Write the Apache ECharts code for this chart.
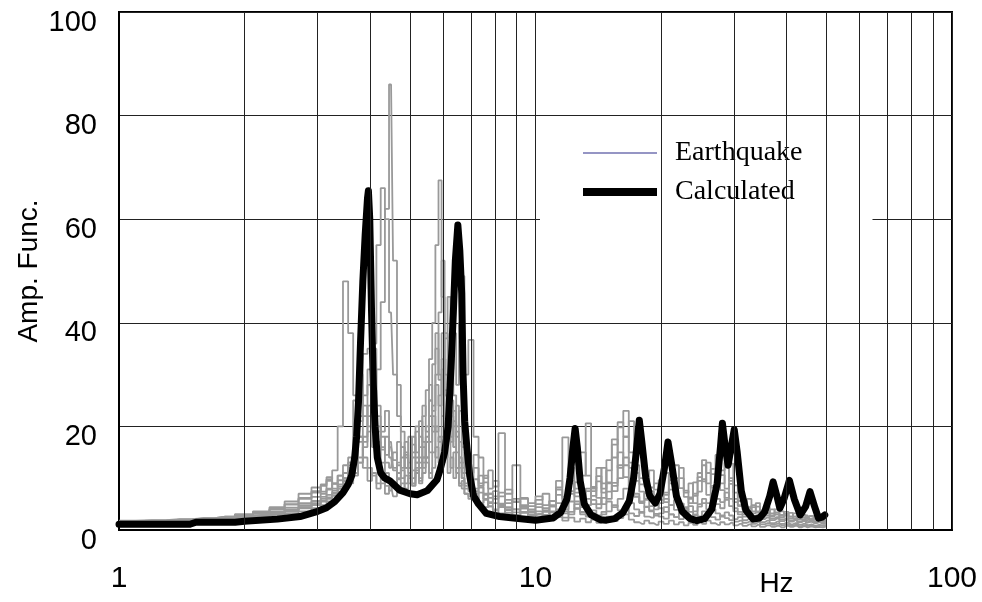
<!DOCTYPE html>
<html>
<head>
<meta charset="utf-8">
<script src="https://cdn.jsdelivr.net/npm/echarts@6/dist/echarts.min.js"></script>
<style>
html,body{margin:0;padding:0;background:#fff;}
#chart{width:982px;height:602px;}
</style>
</head>
<body>
<div id="chart"></div>
<script>
// ---- Calculated transfer function (Hz, amplitude) ----
const calcFreq = [1.0, 1.48, 1.53, 1.9, 2.0, 2.4, 2.72, 3.0, 3.15, 3.3,
  3.45, 3.55, 3.62, 3.68, 3.72, 3.76, 3.8, 3.85, 3.9, 3.95,
  3.97, 4.0, 4.04, 4.08, 4.12, 4.17, 4.25, 4.35, 4.47, 4.72,
  5.0, 5.2, 5.5, 5.8, 5.9, 6.05, 6.17, 6.28, 6.35, 6.42,
  6.51, 6.58, 6.65, 6.7, 6.76, 6.83, 6.95, 7.1, 7.3, 7.62,
  8.2, 8.85, 10.0, 11.0, 11.5, 11.9, 12.1, 12.3, 12.45, 12.6,
  12.8, 13.1, 13.6, 14.3, 14.8, 15.5, 16.2, 16.8, 17.2, 17.5,
  17.75, 18.0, 18.4, 18.8, 19.4, 19.9, 20.4, 20.8, 21.2, 21.8,
  22.5, 23.5, 24.4, 25.5, 26.5, 27.3, 27.8, 28.1, 28.5, 29.0,
  29.5, 30.0, 30.5, 31.2, 32.0, 33.3, 34.5, 35.5, 36.5, 37.2,
  38.0, 38.6, 39.5, 40.7, 41.8, 43.2, 44.5, 45.6, 46.8, 47.8,
  48.8, 49.5];
const calcAmp = [1.1, 1.1, 1.5, 1.5, 1.7, 2.1, 2.6, 3.6, 4.3, 5.5,
  7.2, 8.8, 10.5, 14, 18, 25, 36, 48, 57, 64,
  65.5, 60, 42, 28, 20, 14, 11, 10, 9.5, 7.7,
  7.0, 6.8, 7.6, 9.7, 11.6, 15, 20, 32.8, 42, 52,
  58.9, 54, 45.7, 30, 21, 16.7, 10.5, 6.6, 5.0, 3.2,
  2.6, 2.3, 1.9, 2.3, 3.4, 6.0, 10, 16, 19.6, 16,
  9.5, 5, 2.9, 2.0, 1.9, 2.2, 3.3, 5.6, 10, 16,
  21.2, 17, 10, 6.6, 5.2, 7, 12, 17, 13, 6.5,
  3.6, 2.2, 1.8, 2.2, 4, 9, 16, 20.6, 16.5, 12.5,
  16, 19.4, 15, 7.5, 3.8, 2.1, 2.3, 3.5, 6.5, 9.3,
  6.5, 4.2, 6, 9.6, 6, 2.9, 4.5, 7.4, 4.5, 2.3,
  2.5, 2.9];

// ---- Earthquake records: shared frequency grid (Hz) ----
const eqFreq = [1.0, 1.2, 1.4, 1.6, 1.8, 2.0, 2.2, 2.4, 2.6, 2.8,
  3.0, 3.1, 3.2, 3.3, 3.4, 3.5, 3.6, 3.7, 3.8, 3.9,
  4.0, 4.1, 4.2, 4.3, 4.4, 4.5, 4.6, 4.7, 4.8, 4.9,
  5.0, 5.1, 5.2, 5.3, 5.4, 5.5, 5.6, 5.7, 5.8, 5.9,
  6.0, 6.1, 6.2, 6.3, 6.4, 6.5, 6.6, 6.7, 6.8,
  7.0, 7.2, 7.4, 7.6, 7.8, 8.0, 8.3, 8.6, 9.0, 9.4, 9.8,
  10.2, 10.6, 11.0, 11.4, 11.8, 12.2, 12.6, 13.0, 13.4, 13.8,
  14.2, 14.6, 15.0, 15.5, 16.0, 16.5, 17.0, 17.5, 18.0, 18.5,
  19.0, 19.5, 20.0, 20.6, 21.2, 21.8, 22.4, 23.0, 23.6, 24.2,
  24.8, 25.4, 26.0, 26.7, 27.4, 28.1, 28.8, 29.5, 30.2, 31.0,
  31.8, 32.6, 33.4, 34.2, 35.0, 36, 37, 38, 39, 40,
  41, 42, 43, 44, 45, 46, 47, 48, 49, 50];

const eqA = [1.6, 1.7, 1.9, 2.1, 2.3, 2.6, 2.9, 3.3, 3.8, 4.4,
  5.0, 5.6, 6.3, 7.0, 7.4, 8.2, 9.5, 11, 13, 16,
  19, 24, 31, 44, 62, 86, 52, 28, 19, 14,
  12, 10, 13, 9, 11, 14, 10, 12, 16, 13,
  18, 14, 20, 12, 15, 11, 9, 8, 7,
  6.5, 7.5, 5.2, 5.8, 4.6, 4.0, 5.1, 3.8, 3.4, 4.2, 3.0,
  3.6, 2.9, 4.5, 6.8, 5.0, 7.5, 9.2, 6.1, 4.8, 8.3,
  6.2, 5.0, 7.4, 9.1, 12.5, 10.2, 8.0, 6.4, 5.3, 7.1,
  6.0, 4.9, 5.8, 7.2, 9.6, 6.5, 5.1, 4.4, 6.3, 5.2,
  7.4, 9.8, 6.8, 8.5, 10.4, 7.7, 6.2, 8.9, 5.4, 4.6,
  3.9, 4.4, 3.2, 3.6, 2.9, 3.3, 2.6, 3.0, 2.4, 2.8,
  2.2, 2.6, 2.0, 2.4, 1.9, 2.2, 1.7, 2.0, 1.6, 1.8];
const eqB = [1.5, 1.6, 1.7, 1.9, 2.1, 2.4, 2.8, 3.2, 3.9, 4.8,
  5.6, 6.4, 7.8, 8.9, 9.6, 11, 12.5, 14, 17, 22,
  28, 36, 55, 66, 60, 42, 30, 22, 16, 12,
  10.5, 9.0, 11, 14, 12, 17, 22, 19, 28, 24,
  33, 26, 19, 22, 16, 12, 14, 10, 8.5,
  9.5, 7.0, 8.2, 6.0, 5.4, 6.5, 4.8, 4.0, 5.5, 4.2, 3.5,
  4.4, 3.8, 5.6, 8.2, 17.9, 9.0, 6.5, 10.5, 20.6, 8.0,
  9.4, 7.2, 11.5, 14.0, 19.8, 23.0, 15.0, 9.5, 7.4, 6.0,
  8.2, 9.0, 6.5, 5.4, 7.8, 10.0, 8.1, 6.4, 5.2, 7.0,
  9.5, 13.5, 11.0, 8.2, 12.0, 9.0, 14.5, 10.0, 7.2, 5.6,
  4.5, 3.6, 4.8, 3.4, 3.0, 3.9, 2.8, 3.4, 2.5, 3.1,
  2.6, 2.2, 2.8, 2.0, 2.5, 1.9, 2.3, 1.8, 2.1, 1.7];
const eqC = [1.7, 1.8, 2.0, 2.2, 2.5, 2.9, 3.4, 4.0, 4.9, 6.0,
  7.2, 8.5, 9.8, 11.5, 20, 48, 38, 26, 18, 14,
  12, 10.5, 9, 11, 8.5, 7.6, 9.2, 12.5, 10, 15,
  13, 18, 15, 21, 17, 14, 25, 32, 38, 30,
  22, 27, 21, 17, 23, 18, 13, 11, 9,
  8, 9.8, 7.2, 6.0, 7.0, 5.2, 4.4, 5.8, 4.0, 3.4, 3.9,
  3.0, 3.5, 2.6, 4.0, 3.2, 5.5, 4.1, 3.4, 6.0, 5.0,
  4.2, 12.0, 6.0, 8.5, 10.0, 14.0, 12.0, 7.0, 5.5, 4.4,
  3.8, 5.0, 4.2, 3.5, 4.8, 3.9, 3.2, 4.1, 3.5, 2.9,
  4.5, 5.2, 4.0, 6.4, 5.0, 4.2, 5.8, 4.6, 3.6, 3.0,
  2.6, 2.9, 2.3, 2.6, 2.1, 2.4, 1.9, 2.2, 1.7, 2.0,
  1.6, 1.9, 1.5, 1.7, 1.4, 1.6, 1.3, 1.5, 1.2, 1.4];
const eqD = [1.4, 1.5, 1.6, 1.8, 2.0, 2.2, 2.5, 2.9, 3.5, 4.2,
  4.8, 5.5, 6.0, 7.2, 8.0, 9.4, 11, 15, 22, 34,
  35, 27, 20, 16, 13, 12, 15, 11, 14, 17,
  12, 15, 19, 13, 22, 27, 33, 40, 55, 67.5,
  45, 30, 24, 18, 21, 15, 12, 10, 8,
  7.5, 6.4, 5.2, 6.8, 4.5, 3.8, 4.6, 3.3, 2.9, 3.5, 2.8,
  3.1, 2.6, 2.2, 2.9, 2.4, 3.5, 4.2, 3.0, 2.6, 3.8,
  2.8, 3.5, 5.5, 4.4, 6.0, 8.0, 5.2, 4.0, 3.3, 4.5,
  3.6, 2.8, 3.2, 4.4, 3.0, 2.5, 3.6, 2.8, 2.2, 3.0,
  2.6, 3.6, 2.9, 4.0, 3.2, 2.6, 3.4, 2.8, 2.1, 2.5,
  1.9, 2.2, 1.6, 2.0, 1.5, 1.8, 1.3, 1.6, 1.2, 1.4,
  1.1, 1.3, 1.0, 1.2, 0.9, 1.1, 0.8, 1.0, 0.9, 1.0];
const eqE = [1.8, 1.9, 2.1, 2.3, 2.6, 3.0, 3.5, 4.1, 5.0, 6.2,
  7.5, 8.8, 10.2, 9.0, 8.4, 9.6, 12, 10.5, 14, 18,
  24, 21, 17, 13, 11, 9.5, 8.2, 9.8, 8.0, 10.5,
  9, 11.5, 14, 12, 16, 13, 11, 15, 20, 17,
  22, 19, 26, 31, 38, 28, 40, 49, 30,
  36.7, 18, 14, 10, 11.5, 8.4, 18.7, 7.0, 12.5, 6.0, 5.2,
  6.5, 4.8, 5.6, 7.8, 6.0, 9.5, 7.2, 5.5, 8.0, 6.6,
  10.4, 8.0, 9.2, 16.5, 20.8, 18.0, 13.0, 11.0, 8.8, 10.2,
  7.5, 6.2, 8.8, 11.0, 9.0, 12.5, 10.0, 7.6, 6.0, 9.2,
  11.0, 9.4, 13.0, 10.8, 8.5, 11.5, 13.0, 9.5, 6.0, 4.8,
  5.5, 4.2, 3.6, 4.5, 3.8, 3.2, 4.0, 3.0, 3.6, 2.8,
  3.3, 2.6, 3.0, 2.4, 2.8, 2.2, 2.6, 2.0, 2.4, 2.1];
const eqF = [1.5, 1.6, 1.8, 2.0, 2.2, 2.5, 2.8, 3.2, 3.7, 4.4,
  5.2, 6.0, 6.8, 7.6, 8.8, 10.0, 9.0, 11.0, 13.0, 17.0,
  22.0, 25.0, 19.0, 15.5, 18.0, 14.0, 11.5, 13.0, 16.0, 12.0,
  18.0, 14.0, 20.0, 16.0, 24.0, 19.0, 28.0, 23.0, 35.0, 29.0,
  38.0, 26.0, 33.0, 25.0, 20.0, 24.0, 17.0, 13.0, 11.0,
  10.0, 12.0, 8.5, 9.2, 7.0, 6.0, 7.2, 5.2, 6.0, 4.5, 4.0,
  5.0, 4.2, 3.6, 5.2, 4.0, 7.0, 5.5, 4.4, 7.5, 5.8,
  5.0, 6.2, 9.0, 7.5, 15.0, 12.5, 8.5, 6.5, 5.2, 5.8,
  4.6, 4.0, 5.2, 6.0, 4.8, 5.8, 4.4, 3.8, 4.6, 3.6,
  5.0, 6.0, 5.2, 7.0, 6.0, 5.4, 7.2, 6.0, 4.2, 3.5,
  3.0, 3.4, 2.7, 3.0, 2.4, 2.8, 2.2, 2.5, 2.0, 2.3,
  1.8, 2.1, 1.6, 1.9, 1.5, 1.8, 1.4, 1.6, 1.3, 1.5];
const eqG = [1.6, 1.7, 1.8, 2.0, 2.3, 2.7, 3.1, 3.6, 4.3, 5.2,
  6.4, 7.0, 8.0, 9.0, 10.5, 12.5, 14.0, 18.0, 30.0, 24.0,
  20.0, 16.0, 22.0, 18.0, 14.5, 17.0, 12.0, 10.0, 11.5, 9.0,
  10.5, 8.6, 12.0, 10.0, 14.0, 18.0, 15.0, 24.0, 30.0, 42.0,
  52.0, 38.0, 28.0, 20.0, 16.0, 19.0, 14.0, 12.0, 15.0,
  9.0, 8.0, 10.5, 7.0, 6.2, 7.5, 5.0, 4.4, 4.0, 4.8, 3.4,
  3.0, 2.7, 3.4, 2.8, 3.6, 3.0, 5.0, 3.5, 2.9, 3.2,
  2.5, 3.0, 3.6, 4.8, 3.8, 4.5, 3.2, 2.7, 3.5, 2.6,
  2.4, 3.1, 2.6, 2.2, 3.0, 2.5, 2.1, 2.7, 2.2, 1.9,
  2.6, 2.2, 3.0, 2.5, 2.0, 2.8, 2.3, 1.9, 1.6, 1.8,
  1.4, 1.6, 1.2, 1.5, 1.1, 1.3, 1.0, 1.2, 0.9, 1.1,
  0.8, 1.0, 0.7, 0.9, 0.8, 1.0, 0.7, 0.9, 0.8, 0.9];
const eqH = [1.7, 1.8, 2.0, 2.3, 2.6, 3.0, 3.6, 4.4, 5.5, 7.0,
  8.2, 7.4, 9.5, 8.0, 10.5, 9.0, 13.0, 16.0, 21.0, 26.0,
  31.0, 35.0, 24.0, 19.0, 23.0, 16.0, 13.5, 17.0, 12.0, 14.5,
  11.0, 16.5, 13.0, 18.0, 14.0, 20.0, 17.0, 22.0, 19.0, 26.0,
  31.0, 37.0, 45.0, 33.0, 26.0, 20.0, 23.0, 16.0, 13.0,
  11.0, 14.5, 9.0, 10.5, 8.0, 9.5, 6.5, 7.8, 5.4, 6.2, 4.6,
  5.8, 7.0, 4.8, 9.5, 6.4, 12.0, 8.0, 15.0, 10.5, 7.5,
  12.0, 9.0, 13.5, 17.5, 12.0, 18.0, 21.0, 12.5, 10.0, 8.4,
  11.5, 7.8, 9.6, 6.8, 10.8, 8.2, 12.0, 7.2, 9.0, 6.6,
  10.2, 12.5, 9.0, 11.8, 14.5, 10.6, 8.0, 12.8, 8.6, 6.4,
  5.0, 6.0, 4.4, 5.2, 3.6, 4.5, 3.2, 4.0, 2.9, 3.5,
  2.6, 3.2, 2.4, 2.9, 2.2, 2.7, 2.0, 2.5, 1.9, 2.3];
const eqI = [1.3, 1.4, 1.5, 1.7, 1.9, 2.1, 2.4, 2.7, 3.1, 3.6,
  4.2, 4.8, 5.5, 6.6, 8.0, 10.0, 13.0, 25.0, 18.0, 12.0,
  9.5, 11.0, 8.0, 9.0, 7.0, 8.5, 6.5, 7.5, 9.0, 8.0,
  10.0, 8.5, 11.5, 9.5, 13.0, 17.0, 25.0, 20.0, 14.0, 18.0,
  13.0, 16.0, 11.0, 14.0, 10.0, 12.0, 8.5, 9.5, 7.0,
  6.0, 7.0, 5.0, 4.4, 5.2, 3.8, 3.2, 4.0, 2.8, 3.3, 2.5,
  2.2, 2.8, 2.0, 2.5, 1.8, 2.4, 1.6, 2.2, 1.5, 2.0,
  1.4, 1.9, 2.6, 1.7, 2.3, 3.0, 2.0, 1.5, 1.2, 1.8,
  1.3, 1.0, 1.6, 1.2, 1.8, 1.1, 1.5, 0.9, 1.4, 1.0,
  1.6, 1.2, 1.8, 1.3, 1.0, 1.5, 1.1, 1.4, 0.9, 1.2,
  0.8, 1.1, 0.7, 1.0, 0.6, 0.9, 0.6, 0.8, 0.5, 0.8,
  0.6, 0.8, 0.5, 0.7, 0.5, 0.7, 0.5, 0.6, 0.5, 0.7];

const eqRecords = [eqA, eqB, eqC, eqD, eqE, eqF, eqG, eqH, eqI];

// Vertical grid lines at the intermediate decade values
const minorGrid = [2, 3, 4, 5, 6, 7, 8, 9, 20, 30, 40, 50, 60, 70, 80, 90];

const FONT = 'Liberation Sans, Arial, sans-serif';

const series = [];
series.push({
  name: 'grid', type: 'line', data: [[1, 0]], z: 1,
  symbol: 'none', lineStyle: { opacity: 0 }, silent: true,
  markLine: {
    silent: true, symbol: ['none', 'none'], animation: false,
    label: { show: false },
    lineStyle: { color: '#222', width: 1, type: 'solid' },
    data: minorGrid.map(v => ({ xAxis: v }))
  }
});
eqRecords.forEach(rec => {
  series.push({
    name: 'Earthquake', type: 'line', step: 'middle', symbol: 'none', z: 2,
    lineStyle: { color: '#999999', width: 1.8 },
    itemStyle: { color: '#999999' },
    data: rec.map((v, i) => [eqFreq[i], v])
  });
});
series.push({
  name: 'Calculated', type: 'line', symbol: 'none', z: 3,
  lineStyle: { color: '#000', width: 7, join: 'round', cap: 'round' },
  itemStyle: { color: '#000' },
  data: calcAmp.map((v, i) => [calcFreq[i], v])
});

const chart = echarts.init(document.getElementById('chart'), null, { renderer: 'canvas' });
chart.setOption({
  animation: false,
  backgroundColor: '#fff',
  grid: { left: 119, right: 30, top: 12, bottom: 72, outerBoundsMode: 'none', containLabel: false,
          show: true, borderColor: '#000', borderWidth: 2, backgroundColor: 'transparent' },
  legend: {
    show: true, type: 'plain', orient: 'vertical',
    left: 540, top: 124, right: 'auto', bottom: 'auto',
    backgroundColor: '#fff',
    padding: [14, 70, 14, 39],
    itemWidth: 74, itemHeight: 14, itemGap: 9,
    textStyle: { fontFamily: 'Liberation Serif, Times New Roman, serif', fontSize: 28, color: '#000', lineHeight: 30, padding: [0, 0, 0, 13] },
    data: [
      { name: 'Earthquake', itemStyle: { opacity: 0 }, lineStyle: { color: '#7272b0', width: 1.5, cap: 'butt' } },
      { name: 'Calculated', itemStyle: { opacity: 0 }, lineStyle: { color: '#000', width: 8, cap: 'butt' } }
    ]
  },
  xAxis: {
    type: 'log', logBase: 10, min: 1, max: 100,
    name: 'Hz', nameLocation: 'middle', nameGap: 40, nameMoveOverlap: false,
    nameTextStyle: { fontFamily: FONT, fontSize: 28, color: '#000', padding: [0, 0, 0, 482] },
    axisLine: { lineStyle: { color: '#000', width: 2 } },
    axisTick: { show: false },
    minorTick: { show: false },
    axisLabel: { fontFamily: FONT, fontSize: 30, color: '#000', margin: 34 },
    splitLine: { show: true, lineStyle: { color: '#222', width: 1 } }
  },
  yAxis: {
    type: 'value', min: 0, max: 100, interval: 20,
    name: 'Amp. Func.', nameLocation: 'middle', nameGap: 76, nameMoveOverlap: false,
    nameTextStyle: { fontFamily: FONT, fontSize: 28, color: '#000' },
    axisLine: { show: true, lineStyle: { color: '#000', width: 2 } },
    axisTick: { show: false },
    axisLabel: { fontFamily: FONT, fontSize: 29, color: '#000', margin: 22, verticalAlign: 'top', lineHeight: 21 },
    splitLine: { show: true, lineStyle: { color: '#222', width: 1 } }
  },
  series: series
});
</script>
</body>
</html>
